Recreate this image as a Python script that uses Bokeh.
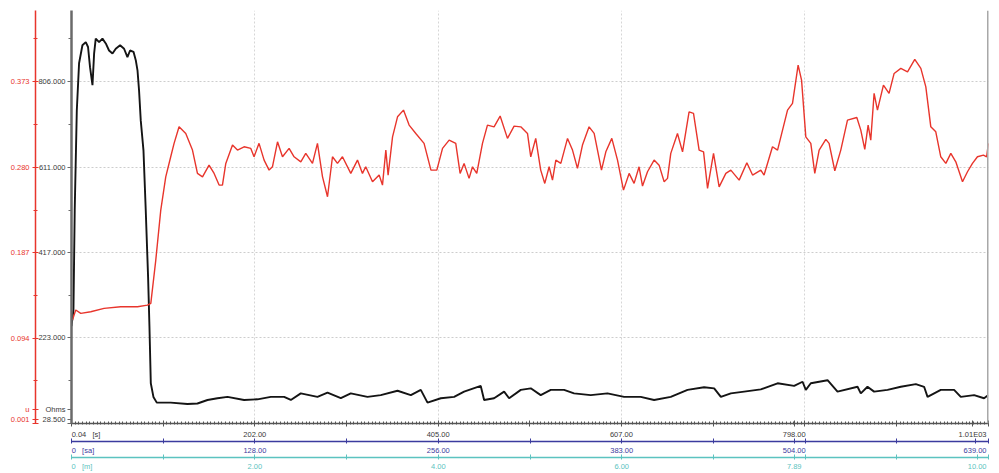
import numpy as np
from bokeh.plotting import figure
from bokeh.models import Range1d, LinearAxis, FixedTicker, NumeralTickFormatter, Span
from bokeh.embed import file_html
from bokeh.resources import INLINE

# ---------------- data ----------------
black_t = [0.04, 2.2, 3.6, 5.9, 8.4, 12.1, 15.8, 18.3, 20.5, 23.2, 25.0, 26.8, 30.5, 34.2, 37.9,
           41.5, 45.3, 48.9, 53.7, 58.1, 61.8, 64.7, 68.5, 71.0, 72.9, 74.6, 76.5, 79.5, 82.0,
           84.6, 86.1, 87.6, 90.5, 94.2, 109.6, 128.1, 139.1, 150.2, 161.2, 172.3, 190.6, 205.4,
           220.1, 234.8, 242.2, 253.2, 271.6, 282.7, 297.4, 308.4, 326.8, 341.5, 360.0, 374.7,
           385.7, 393.1, 407.8, 422.5, 433.5, 451.9, 455.6, 466.6, 477.7, 483.2, 496.1, 507.1,
           518.1, 529.2, 543.9, 554.9, 573.3, 591.8, 610.2, 628.5, 643.3, 661.7, 680.2, 698.5,
           709.6, 717.0, 728.0, 742.7, 761.1, 779.6, 797.9, 807.2, 810.8, 816.3, 834.8, 845.8,
           867.9, 871.5, 878.9, 886.2, 901.0, 915.7, 932.3, 941.4, 945.2, 959.8, 974.5, 981.9,
           996.6, 1007.6, 1012.0]
black_v = [250, 287, 514, 741, 848, 889, 896, 885, 839, 798, 870, 904, 896, 904, 893,
           877, 870, 881, 889, 881, 862, 877, 874, 855, 832, 787, 718, 650, 514,
           362, 249, 120, 89, 76, 76, 73, 74, 82, 86, 89, 82, 83.5,
           89, 89, 82, 97, 89, 98.5, 86, 97, 89, 93, 103, 93,
           105, 76, 86, 89, 101, 114, 82, 86, 101, 86, 105, 108.5,
           93, 105, 105, 97, 93, 97, 89, 89, 82, 89, 105, 111,
           108.5, 89, 97, 101, 106, 120, 114, 123.5, 105, 120, 127, 101,
           112, 97, 112, 101, 105, 112, 118, 112, 89, 105, 105, 89,
           93, 86, 93]

red_t = [1.1, 4.7, 10.3, 21.3, 36.0, 54.4, 72.9, 83.9, 87.6, 93.1, 98.6, 104.1, 109.6, 113.3,
         118.8, 126.2, 133.6, 139.1, 144.7, 151.9, 157.5, 163.0, 166.7, 170.4, 177.8, 183.3,
         190.6, 198.0, 201.6, 207.1, 212.7, 218.2, 221.9, 227.5, 233.0, 240.3, 245.8, 253.2,
         258.7, 266.1, 271.6, 277.2, 282.7, 288.2, 293.7, 299.2, 308.4, 315.8, 321.3, 324.9,
         332.4, 339.7, 343.4, 347.1, 349.6, 354.5, 360.0, 366.6, 372.8, 380.2, 389.3, 396.9,
         403.4, 409.7, 417.0, 424.3, 429.1, 433.5, 439.0, 442.8, 447.5, 453.8, 459.3, 466.6,
         473.3, 481.4, 488.7, 496.1, 503.5, 507.1, 512.6, 518.1, 522.6, 527.4, 531.1, 534.8,
         540.3, 547.7, 553.2, 558.7, 564.2, 571.5, 577.1, 585.2, 590.0, 596.6, 602.9, 609.5,
         615.7, 621.2, 626.7, 630.5, 636.0, 643.3, 648.8, 654.4, 658.1, 661.7, 669.1, 674.7,
         681.9, 686.8, 693.0, 697.9, 702.3, 708.9, 715.1, 722.5, 728.0, 737.2, 745.7, 752.0,
         761.1, 764.7, 774.0, 779.6, 790.6, 796.1, 802.3, 806.1, 810.8, 816.3, 820.7, 825.5,
         832.9, 836.5, 842.8, 849.4, 856.8, 867.1, 871.5, 875.9, 879.6, 882.5, 886.2, 889.9,
         896.5, 902.7, 908.3, 915.7, 923.1, 931.1, 937.8, 943.3, 948.8, 954.3, 959.8, 965.4,
         970.9, 976.4, 983.8, 989.3, 994.8, 1000.3, 1006.9, 1010.5, 1012.3]
red_v = [0.1136, 0.1245, 0.1209, 0.1226, 0.1263, 0.1281, 0.1281, 0.1299, 0.1318, 0.1789, 0.2333,
         0.2695, 0.2913, 0.3059, 0.3239, 0.3167, 0.2986, 0.2732, 0.2695, 0.2822, 0.2732, 0.2605,
         0.2605, 0.2841, 0.3040, 0.2986, 0.3022, 0.3004, 0.2913, 0.3059, 0.2877, 0.2768, 0.2804,
         0.3076, 0.2913, 0.3004, 0.2913, 0.2858,
         0.2950, 0.2841, 0.3059, 0.2695, 0.2478, 0.2913, 0.2841, 0.2913, 0.2732, 0.2877, 0.2732,
         0.2804, 0.2641, 0.2714, 0.2605, 0.2986, 0.2714, 0.3130, 0.3348, 0.3421, 0.3258, 0.3167,
         0.3059, 0.2768, 0.2768, 0.3004, 0.3094, 0.3059, 0.2732, 0.2841, 0.2678, 0.2804, 0.2732,
         0.3059, 0.3258, 0.3239, 0.3356, 0.3113, 0.3247, 0.3239, 0.3167, 0.2913,
         0.3113, 0.2768, 0.2623, 0.2804, 0.2659, 0.2877, 0.2841, 0.3113, 0.2986, 0.2787, 0.3040,
         0.3239, 0.3167, 0.2768, 0.2967, 0.3113, 0.2877, 0.2550, 0.2732, 0.2623, 0.2804, 0.2594,
         0.2750, 0.2877, 0.2822, 0.2641, 0.2678, 0.2950, 0.3167, 0.2967, 0.3402, 0.3385, 0.2986,
         0.2967, 0.2569, 0.2950, 0.2586, 0.2732, 0.2768, 0.2659, 0.2848, 0.2714, 0.2768,
         0.2714, 0.3022, 0.2986, 0.3421, 0.3494, 0.3910, 0.3747, 0.3130, 0.3059, 0.2732, 0.2986,
         0.3102, 0.3059, 0.2761, 0.2986, 0.3312, 0.3341, 0.3203, 0.2993, 0.3258, 0.3094, 0.3603,
         0.3421, 0.3693, 0.3603, 0.3820, 0.3875, 0.3838, 0.3973, 0.3875, 0.3674, 0.3239, 0.3185,
         0.2913, 0.2841, 0.2950, 0.2858, 0.2641, 0.2750, 0.2841, 0.2913, 0.2931, 0.2913, 0.3059]

ohm_ticks = [28.5, 223.0, 417.0, 611.0, 806.0]
u_ticks = [0.001, 0.094, 0.187, 0.280, 0.373]
s_ticks = [202.4, 404.8, 607.2, 809.6]
s_labels = ["202.00", "405.00", "607.00", ""]
sa_ticks = [127.9, 255.8, 383.7, 511.6]
sa_labels = ["128.00", "256.00", "383.00", ""]
m_ticks = [2.0, 4.0, 6.0, 8.0]
m_labels = ["2.00", "4.00", "6.00", ""]
axis_start_labels = ["0.04", "0", "0"]
axis_units = ["[s]", "[sa]", "[m]"]
axis_end_labels = ["1.01E03", "639.00", "10.00"]
cursor_s = 798.0
cursor_texts = ["798.00", "504.00", "7.89"]

# ---------------- styling / layout ----------------
FONT = "Liberation Sans"
FS = "7.5px"
FS_PX = 7.5
RED = "#e8352c"
BLUE = "#3b3b9e"
TEAL = "#5cc3c0"
DARK = "#3a3a3a"
NB = "\u00a0"

W, H = 992, 473
BL, BR, BT, BB = 71, 4, 10, 48
S_START, S_END = 0.04, 1012.5
SA_END, M_END = 639.5, 10.0
OHM_TOP = 968.0

FRAME_W = W - BL - BR
FRAME_H = H - BT - BB
Y_PER_PX = (OHM_TOP - ohm_ticks[0]) / FRAME_H

# Arial / Liberation Sans advance widths (em) used to place edge labels
ADV = {c: 0.556 for c in "0123456789"}
ADV.update({".": 0.278, "[": 0.278, "]": 0.278, "s": 0.5, "a": 0.556, "m": 0.833, "E": 0.667, NB: 0.278})


def text_w(s):
    return sum(ADV.get(c, 0.556) for c in s) * FS_PX


def left_label(text):     # label whose left edge sits on its tick
    return NB * int(round(text_w(text) / (0.278 * FS_PX))) + text


def px_y(dy):      # pixels above the frame's bottom edge -> Ohms
    return ohm_ticks[0] + dy * Y_PER_PX


def ohm_to_u(v):
    return u_ticks[0] + (v - ohm_ticks[0]) * (u_ticks[-1] - u_ticks[0]) / (ohm_ticks[-1] - ohm_ticks[0])


p = figure(width=W, height=H, x_range=Range1d(S_START, S_END),
           y_range=Range1d(ohm_ticks[0], OHM_TOP),
           output_backend="svg", toolbar_location=None,
           min_border_left=BL, min_border_right=BR, min_border_top=BT, min_border_bottom=BB)
p.extra_y_ranges = {"u": Range1d(ohm_to_u(ohm_ticks[0]), ohm_to_u(OHM_TOP))}
p.extra_x_ranges = {"sa": Range1d(0, SA_END), "m": Range1d(0, M_END)}
p.outline_line_color = None
p.background_fill_color = "white"
p.border_fill_color = "white"


def mids(t):
    return [(a + b) / 2 for a, b in zip(t[:-1], t[1:])]


def style_axis(ax, color, label_color):
    ax.axis_line_color = color
    ax.major_tick_line_color = color
    ax.minor_tick_line_color = color
    ax.major_label_text_color = label_color
    ax.major_label_text_font = FONT
    ax.major_label_text_font_size = FS


# black (Ohms) axis; lowest value and unit name sit just above the bottom
low_y, unit_y = px_y(4), px_y(14)
ya = p.yaxis[0]
oh_minor = mids(ohm_ticks) + [ohm_ticks[-1] + (ohm_ticks[1] - ohm_ticks[0]) / 2]
ya.ticker = FixedTicker(ticks=ohm_ticks + [low_y, unit_y], minor_ticks=oh_minor)
ya.formatter = NumeralTickFormatter(format="0.000")
ya.major_label_overrides = {ohm_ticks[0]: "", low_y: "28.500", unit_y: "Ohms"}
style_axis(ya, "#6a6a6a", DARK)
ya.axis_line_width = 2.5
ya.major_tick_out = 4
ya.major_tick_in = 0
ya.minor_tick_out = 3
ya.minor_tick_in = 0
ya.major_label_standoff = 2

# red (u) axis
u_low, u_unit = ohm_to_u(low_y), ohm_to_u(unit_y)
ra = LinearAxis(y_range_name="u",
                ticker=FixedTicker(ticks=u_ticks + [u_low, u_unit],
                                   minor_ticks=[ohm_to_u(v) for v in oh_minor]),
                formatter=NumeralTickFormatter(format="0.000"))
ra.major_label_overrides = {u_ticks[0]: "", u_low: "0.001", u_unit: "u"}
style_axis(ra, RED, RED)
ra.axis_line_width = 1.5
ra.major_tick_out = 3
ra.major_tick_in = 3
ra.minor_tick_out = 2
ra.minor_tick_in = 2
ra.major_label_standoff = 3
p.add_layout(ra, "left")


def bottom_axis(ax, start, end, ticks, labels, i):
    per_px = (end - start) / FRAME_W
    half = [t - ticks[0] / 2 for t in ticks] + [ticks[-1] + ticks[0] / 2]
    start_txt = axis_start_labels[i] + NB * 3 + axis_units[i]
    end_c = end - (2 + text_w(axis_end_labels[i]) / 2) * per_px      # right edge 2px inside
    cur = start + (cursor_s - S_START) * (end - start) / (S_END - S_START)
    ov = {t: l for t, l in zip(ticks, labels)}
    ov.update({t: "" for t in half})
    ov[start] = left_label(start_txt)
    ov[end] = ""
    ov[end_c] = axis_end_labels[i]
    ov[cur] = cursor_texts[i]
    ax.major_label_overrides = ov
    return ticks + half + [start, end, end_c, cur]


# main seconds axis
xa = p.xaxis[0]
xa_ticks = bottom_axis(xa, S_START, S_END, s_ticks, s_labels, 0)
xa.ticker = FixedTicker(ticks=xa_ticks, minor_ticks=list(np.arange(0.0, S_END, s_ticks[0] / 50)))
style_axis(xa, "#555555", DARK)
xa.axis_line_width = 1.5
xa.major_tick_in = 3
xa.major_tick_out = 3
xa.minor_tick_in = 2
xa.minor_tick_out = 1
xa.major_label_standoff = 3

ax2 = LinearAxis(x_range_name="sa")
ax2.ticker = FixedTicker(ticks=bottom_axis(ax2, 0.0, SA_END, sa_ticks, sa_labels, 1))
style_axis(ax2, BLUE, BLUE)
ax2.axis_line_width = 1.5
ax2.major_tick_in = 3
ax2.major_tick_out = 2
ax2.minor_tick_line_color = None
ax2.major_label_standoff = 2
p.add_layout(ax2, "below")

ax3 = LinearAxis(x_range_name="m")
ax3.ticker = FixedTicker(ticks=bottom_axis(ax3, 0.0, M_END, m_ticks, m_labels, 2))
style_axis(ax3, TEAL, TEAL)
ax3.axis_line_width = 1.5
ax3.major_tick_in = 3
ax3.major_tick_out = 2
ax3.minor_tick_line_color = None
ax3.major_label_standoff = 2
p.add_layout(ax3, "below")

# grids
p.xgrid.ticker = FixedTicker(ticks=s_ticks)
p.xgrid.grid_line_color = "#d6d6d6"
p.xgrid.grid_line_dash = "2 2"
p.ygrid.ticker = FixedTicker(ticks=ohm_ticks[1:])
p.ygrid.grid_line_color = "#cdcdcd"
p.ygrid.grid_line_dash = "2 2"

# right border
p.add_layout(Span(location=S_END, dimension="height", line_color="#a8a8a8", line_width=3))

# series
p.line(black_t, black_v, line_color="#141414", line_width=1.9)
p.line(red_t, red_v, y_range_name="u", line_color=RED, line_width=1.4)

open("out.html", "w").write(file_html(p, INLINE))
